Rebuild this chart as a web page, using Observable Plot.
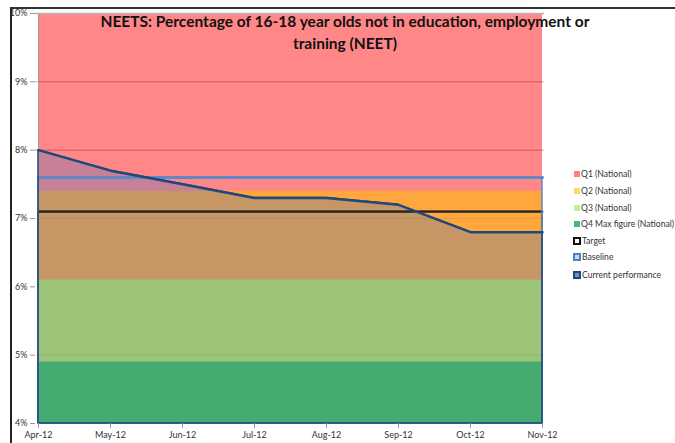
<!DOCTYPE html>
<html>
<head>
<meta charset="utf-8">
<script src="https://cdn.jsdelivr.net/npm/d3@7"></script>
<script src="https://cdn.jsdelivr.net/npm/@observablehq/plot@0.6"></script>
<style>
  html, body { margin: 0; padding: 0; background: #fff; }
  #wrap { position: relative; width: 675px; height: 443px; overflow: hidden; font-family: Lato, "Open Sans", sans-serif; }
  #frame { position: absolute; left: 10px; top: 7px; width: 670px; height: 440px; border-left: 2px solid #222; border-top: 2px solid #333; box-sizing: border-box; pointer-events: none; }
  #title { position: absolute; left: 0; top: 10px; width: 690px; text-align: center; font-weight: bold; font-size: 15.5px; line-height: 22px; color: #111; }
  .lg { position: absolute; font-size: 8.6px; color: #333; white-space: nowrap; line-height: 10px; }
  .sw { position: absolute; box-sizing: border-box; }
  #chart svg { position: absolute; left: 0; top: 0; }
</style>
</head>
<body>
<div id="wrap">
  <div id="chart"></div>
  <div id="frame"></div>
  <div id="title"></div>
  <div id="legend"></div>
</div>
<script>
// ---- data ----
const months = ["Apr-12", "May-12", "Jun-12", "Jul-12", "Aug-12", "Sep-12", "Oct-12", "Nov-12"];
const currentPerformance = [8.0, 7.7, 7.5, 7.3, 7.3, 7.2, 6.8, 6.8];
const q1National = [10, 10, 10, 10, 10, 10, 10, 10];
const q2National = [7.4, 7.4, 7.4, 7.4, 7.4, 7.4, 7.4, 7.4];
const q3National = [6.1, 6.1, 6.1, 6.1, 6.1, 6.1, 6.1, 6.1];
const q4National = [4.9, 4.9, 4.9, 4.9, 4.9, 4.9, 4.9, 4.9];
const targetValues = [7.1, 7.1, 7.1, 7.1, 7.1, 7.1, 7.1, 7.1];
const baselineValues = [7.6, 7.6, 7.6, 7.6, 7.6, 7.6, 7.6, 7.6];
const yTicks = [4, 5, 6, 7, 8, 9, 10];
const titleLines = ["NEETS: Percentage of 16-18 year olds not in education, employment or", "training (NEET)"];
const legendLabels = ["Q1 (National)", "Q2 (National)", "Q3 (National)", "Q4 Max figure (National)", "Target", "Baseline", "Current performance"];

const rows = months.map((m, i) => ({
  month: m, current: currentPerformance[i], q1: q1National[i], q2: q2National[i],
  q3: q3National[i], q4: q4National[i], target: targetValues[i], baseline: baselineValues[i]
}));
const floor = d => 4;

const chart = Plot.plot({
  width: 675,
  height: 443,
  marginLeft: 35,
  marginRight: 131,
  marginTop: 13,
  marginBottom: 20,
  style: { fontFamily: "Lato, 'Open Sans', sans-serif", fontSize: "9px", background: "transparent" },
  x: { type: "point", domain: months, padding: 0, label: null },
  y: { domain: [4, 10], label: null },
  marks: [
    Plot.areaY(rows, { x: "month", y1: floor, y2: "q1", fill: "#FF8787" }),
    Plot.areaY(rows, { x: "month", y1: floor, y2: "q2", fill: "#FFA63C" }),
    Plot.areaY(rows, { x: "month", y1: floor, y2: "current", fill: "#4174C3", fillOpacity: 0.3 }),
    Plot.areaY(rows, { x: "month", y1: floor, y2: "q3", fill: "#9DC479" }),
    Plot.areaY(rows, { x: "month", y1: floor, y2: "q4", fill: "#45AC71" }),
    Plot.ruleY([8, 9], { stroke: "#7a0000", strokeOpacity: 0.35 }),
    Plot.ruleY([5, 7], { stroke: "#000", strokeOpacity: 0.07 }),
    Plot.ruleY([10], { stroke: "#b5b5b5", strokeWidth: 1.5 }),
    Plot.ruleX([months[0]], { stroke: "#a0a0a0", y1: 4, y2: 10 }),
    Plot.areaY(rows, { x: "month", y1: floor, y2: "target", fill: "none", stroke: "#222", strokeWidth: 1.2 }),
    Plot.lineY(rows, { x: "month", y: "target", stroke: "#222", strokeWidth: 2 }),
    Plot.areaY(rows, { x: "month", y1: floor, y2: "baseline", fill: "none", stroke: "#5E86C2", strokeWidth: 1.5 }),
    Plot.lineY(rows, { x: "month", y: "baseline", stroke: "#6088C4", strokeWidth: 3 }),
    Plot.areaY(rows, { x: "month", y1: floor, y2: "current", fill: "none", stroke: "#1F497D", strokeWidth: 1.5 }),
    Plot.lineY(rows, { x: "month", y: "current", stroke: "#1F497D", strokeWidth: 2.5 }),
    Plot.axisY({ ticks: yTicks, tickFormat: d => d + "%", tickSize: 5, tickPadding: 3, stroke: "#999", fill: "#333", fontSize: 9 }),
    Plot.axisX({ tickSize: 5, tickPadding: 3, stroke: "#999", fill: "#333", fontSize: 9 })
  ]
});
document.getElementById("chart").appendChild(chart);

// title
document.getElementById("title").innerHTML = titleLines.join("<br>");

// legend
const legendTops = [174, 191, 208, 224, 241, 257, 275];
const legendStyles = [
  { bg: "#FF8080", border: "none", size: 6 },
  { bg: "#FFD966", border: "none", size: 6 },
  { bg: "#BDF29A", border: "none", size: 6 },
  { bg: "#45B97A", border: "none", size: 6 },
  { bg: "#fff", border: "2px solid #111", size: 8 },
  { bg: "#C5D9F0", border: "2px solid #4F81BD", size: 8 },
  { bg: "#6F8FC0", border: "2px solid #1F497D", size: 8 }
];
const lg = document.getElementById("legend");
legendLabels.forEach((label, i) => {
  const s = legendStyles[i];
  const sw = document.createElement("div");
  sw.className = "sw";
  sw.style.left = (s.size === 6 ? 574 : 573) + "px";
  sw.style.top = (legendTops[i] - s.size / 2) + "px";
  sw.style.width = s.size + "px";
  sw.style.height = s.size + "px";
  sw.style.background = s.bg;
  sw.style.border = s.border;
  lg.appendChild(sw);
  const t = document.createElement("div");
  t.className = "lg";
  t.style.left = (s.size === 6 ? 581 : 582) + "px";
  t.style.top = (legendTops[i] - 5) + "px";
  t.textContent = label;
  lg.appendChild(t);
});
</script>
</body>
</html>
